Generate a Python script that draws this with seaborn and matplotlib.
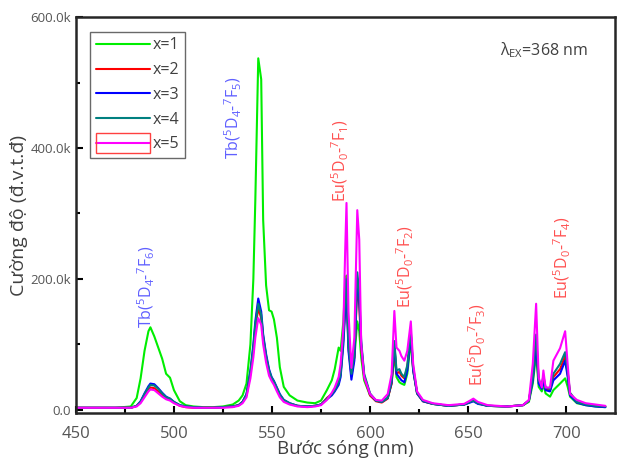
import numpy as np
import pandas as pd
import seaborn as sns
import matplotlib.pyplot as plt
from matplotlib.patches import Rectangle

# wavelength grid (nm)
wl = [450, 460, 470, 478, 481, 483, 485, 487, 488, 490, 492, 494, 496, 498, 500, 503, 506, 510, 515, 520,
      525, 530, 533, 535, 537, 539, 540.5, 541.5, 543, 544.5, 545.5, 547, 548.5, 549.8, 551, 552.5, 554, 556,
      559, 563, 568, 572, 575, 578, 580.5, 582, 584, 585, 586.4, 587.3, 588, 589, 590.5, 592, 593.5, 594.5,
      595.5, 597, 600, 603, 606, 609, 611, 612.4, 613.5, 615, 616, 617.5, 619, 620.8, 622, 624, 627, 632,
      640, 648, 651, 652.7, 655, 660, 670, 678, 681, 683, 684.7, 686, 687.6, 688.4, 689.5, 691.8, 693.5,
      696.9, 699.5, 700.8, 702, 705.5, 710, 715, 720]

# intensities in thousands
x1 = [3, 3, 3, 5, 18, 48, 90, 120, 126, 112, 95, 78, 55, 49, 30, 13, 7, 5, 4, 4,
      5, 8, 14, 22, 40, 100, 200, 320, 537, 505, 290, 190, 152, 150, 138, 110, 65, 35,
      22, 14, 11, 10, 14, 30, 45, 62, 95, 90, 135, 190, 205, 110, 60, 80, 135, 120,
      80, 45, 22, 14, 12, 18, 40, 85, 50, 42, 40, 38, 55, 105, 60, 25, 13, 9,
      6, 8, 12, 14, 10, 6, 5, 7, 12, 40, 85, 35, 28, 40, 25, 20, 30,
      40, 48, 35, 20, 10, 7, 5, 4]
x2 = [3, 3, 3, 3, 6, 12, 22, 31, 34, 33, 28, 23, 18, 16, 11, 6, 4, 3, 3, 3,
      4, 5, 7, 12, 22, 55, 90, 125, 155, 140, 110, 80, 58, 48, 42, 32, 22, 14,
      9, 6, 5, 6, 8, 18, 24, 30, 42, 55, 110, 160, 190, 95, 52, 80, 190, 160,
      95, 50, 22, 13, 11, 17, 40, 95, 55, 58, 52, 48, 65, 115, 62, 25, 13, 9,
      6, 8, 12, 14, 10, 6, 5, 7, 14, 50, 110, 45, 35, 50, 32, 30, 50,
      62, 82, 55, 25, 12, 8, 6, 5]
x3 = [3, 3, 3, 3, 6, 13, 25, 36, 40, 39, 33, 26, 20, 17, 12, 7, 5, 4, 3, 3,
      4, 5, 7, 12, 24, 60, 100, 135, 170, 150, 115, 85, 62, 50, 44, 34, 24, 15,
      10, 6, 5, 6, 8, 16, 22, 28, 38, 50, 100, 150, 180, 90, 46, 75, 200, 170,
      100, 52, 24, 14, 12, 18, 42, 100, 55, 49, 45, 42, 60, 115, 60, 25, 13, 9,
      6, 8, 11, 13, 9, 6, 5, 7, 14, 45, 100, 40, 32, 45, 30, 28, 45,
      55, 75, 50, 22, 11, 7, 5, 4]
x4 = [3, 3, 3, 3, 6, 12, 24, 34, 38, 37, 32, 25, 19, 17, 12, 7, 5, 4, 3, 3,
      4, 5, 7, 12, 23, 58, 95, 130, 162, 145, 112, 82, 60, 49, 43, 33, 23, 15,
      10, 6, 5, 6, 8, 17, 24, 30, 42, 55, 110, 165, 200, 100, 55, 85, 210, 180,
      105, 55, 25, 14, 12, 18, 45, 105, 60, 62, 55, 50, 68, 120, 65, 26, 14, 9,
      6, 8, 12, 14, 10, 6, 5, 7, 14, 50, 115, 45, 38, 52, 34, 32, 55,
      70, 88, 58, 26, 12, 8, 6, 5]
x5 = [3, 3, 3, 3, 5, 10, 19, 28, 31, 30, 25, 20, 16, 14, 10, 6, 4, 3, 3, 3,
      3, 4, 6, 10, 19, 48, 80, 110, 140, 130, 100, 72, 52, 44, 38, 28, 19, 12,
      8, 5, 4, 5, 7, 15, 26, 34, 50, 70, 125, 240, 316, 150, 64, 110, 305, 260,
      100, 50, 24, 15, 14, 24, 54, 151, 95, 90, 82, 75, 90, 135, 70, 28, 15, 10,
      7, 9, 14, 17, 12, 7, 5, 7, 15, 70, 162, 49, 34, 60, 34, 34, 75,
      94, 120, 69, 24, 15, 10, 8, 6]

series = ["x=1", "x=2", "x=3", "x=4", "x=5"]
colors = ["#00ee00", "#ff0000", "#0000ff", "#008080", "#ff00ff"]

frames = []
for name, vals in zip(series, [x1, x2, x3, x4, x5]):
    frames.append(pd.DataFrame({"wl": wl, "I": np.array(vals) * 1000.0, "s": name}))
df = pd.concat(frames, ignore_index=True)

sns.set_style("ticks")
plt.rcParams["font.family"] = ["Open Sans", "DejaVu Sans"]
plt.rcParams["mathtext.fontset"] = "custom"
plt.rcParams["mathtext.rm"] = "Open Sans"
plt.rcParams["mathtext.it"] = "Open Sans"

fig = plt.figure(figsize=(6.17, 4.62), dpi=100)
ax = fig.add_axes([0.123, 0.106, 0.874, 0.857])

sns.lineplot(data=df, x="wl", y="I", hue="s", palette=dict(zip(series, colors)),
             linewidth=1.5, ax=ax, legend=False, sort=False)

ax.set_xlim(450, 725)
ax.set_ylim(-5000, 600000)
ax.set_xticks([450, 500, 550, 600, 650, 700])
ax.set_xticks([475, 525, 575, 625, 675], minor=True)
ax.set_yticks([0, 200000, 400000, 600000], ["0.0", "200.0k", "400.0k", "600.0k"])
ax.set_yticks([100000, 300000, 500000], minor=True)
ax.tick_params(axis="both", which="both", direction="in", width=1.5, colors="black")
ax.tick_params(axis="both", which="major", length=5)
ax.tick_params(axis="both", which="minor", length=3)
ax.tick_params(axis="x", labelsize=12, labelcolor="#555555", pad=9)
ax.tick_params(axis="y", labelsize=9.5, labelcolor="#555555")
for sp in ax.spines.values():
    sp.set_linewidth(1.8)
    sp.set_visible(True)

ax.set_xlabel("Bước sóng (nm)", fontsize=13.5, color="#404040", labelpad=-1)
ax.set_ylabel("Cường độ (đ.v.t.đ)", fontsize=14, color="#404040", labelpad=2)

# legend
handles = [plt.Line2D([], [], color=c, lw=1.5) for c in colors]
leg = ax.legend(handles, series, loc="upper left", bbox_to_anchor=(0.026, 0.963),
                fontsize=11.5, frameon=True, fancybox=False, edgecolor="#444444",
                handlelength=3.4, handletextpad=0.2, labelspacing=0.55, borderpad=0.35,
                borderaxespad=0)
leg.get_frame().set_linewidth(1.0)
for t in leg.get_texts():
    t.set_color("#404040")

# annotations
tb = "#6060ff"
eu = "#ff5050"
ax.text(486, 188000, r"Tb($^5$D$_4$-$^7$F$_6$)", rotation=90, color=tb, fontsize=11.5, ha="center", va="center")
ax.text(530.6, 446000, r"Tb($^5$D$_4$-$^7$F$_5$)", rotation=90, color=tb, fontsize=11.5, ha="center", va="center")
ax.text(584.7, 381000, r"Eu($^5$D$_0$-$^7$F$_1$)", rotation=90, color=eu, fontsize=11.5, ha="center", va="center")
ax.text(617.9, 218000, r"Eu($^5$D$_0$-$^7$F$_2$)", rotation=90, color=eu, fontsize=11.5, ha="center", va="center")
ax.text(654.6, 100000, r"Eu($^5$D$_0$-$^7$F$_3$)", rotation=90, color=eu, fontsize=11.5, ha="center", va="center")
ax.text(698, 233000, r"Eu($^5$D$_0$-$^7$F$_4$)", rotation=90, color=eu, fontsize=11.5, ha="center", va="center")
ax.text(666.3, 550000, r"$\lambda_{EX}$=368 nm", color="#404040", fontsize=11.5, ha="left", va="center")

# red selection box around last legend handle
fig.canvas.draw()
bb = leg.legend_handles[4].get_window_extent(fig.canvas.get_renderer())
inv = fig.transFigure.inverted()
(x0, y0), (x1b, y1b) = inv.transform([[bb.x0, bb.y0 - 10], [bb.x1, bb.y1 + 10]])
fig.patches.append(Rectangle((x0, y0), x1b - x0, y1b - y0, transform=fig.transFigure,
                             fill=False, edgecolor="#ff4040", lw=1.0, zorder=10))

fig.savefig("out.png", dpi=100)
